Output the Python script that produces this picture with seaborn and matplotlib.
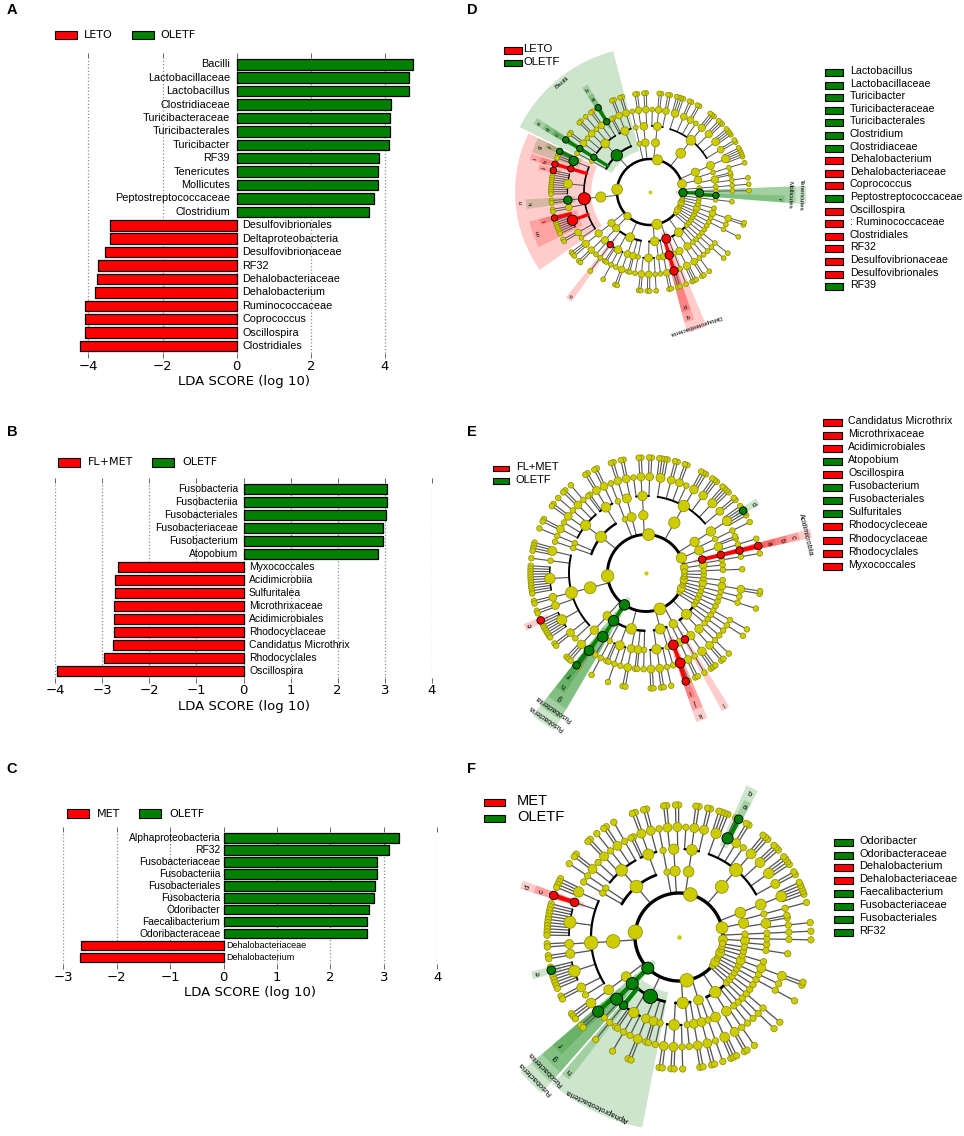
import numpy as np
import pandas as pd
import seaborn as sns
import matplotlib
matplotlib.use("Agg")
from matplotlib import pyplot as plt
from matplotlib.patches import Rectangle

# ---------------- LDA bar data (panels A, B, C) ----------------
A_TAXA = ["Bacilli", "Lactobacillaceae", "Lactobacillus", "Clostridiaceae", "Turicibacteraceae",
          "Turicibacterales", "Turicibacter", "RF39", "Tenericutes", "Mollicutes",
          "Peptostreptococcaceae", "Clostridium", "Desulfovibrionales", "Deltaproteobacteria",
          "Desulfovibrionaceae", "RF32", "Dehalobacteriaceae", "Dehalobacterium",
          "Ruminococcaceae", "Coprococcus", "Oscillospira", "Clostridiales"]
A_LDA = [4.75, 4.65, 4.64, 4.16, 4.14, 4.14, 4.12, 3.84, 3.82, 3.82, 3.70, 3.56,
         -3.42, -3.42, -3.55, -3.73, -3.78, -3.82, -4.08, -4.08, -4.10, -4.22]
A_GROUPS = ["LETO", "OLETF"]

B_TAXA = ["Fusobacteria", "Fusobacteriia", "Fusobacteriales", "Fusobacteriaceae", "Fusobacterium",
          "Atopobium", "Myxococcales", "Acidimicrobiia", "Sulfuritalea", "Microthrixaceae",
          "Acidimicrobiales", "Rhodocyclaceae", "Candidatus Microthrix", "Rhodocyclales", "Oscillospira"]
B_LDA = [3.05, 3.04, 3.02, 2.96, 2.96, 2.85, -2.67, -2.73, -2.73, -2.74, -2.75, -2.75,
         -2.76, -2.97, -3.96]
B_GROUPS = ["FL+MET", "OLETF"]

C_TAXA = ["Alphaproteobacteria", "RF32", "Fusobacteriaceae", "Fusobacteriia", "Fusobacteriales",
          "Fusobacteria", "Odoribacter", "Faecalibacterium", "Odoribacteraceae",
          "Dehalobacteriaceae", "Dehalobacterium"]
C_LDA = [3.28, 3.10, 2.88, 2.87, 2.83, 2.81, 2.73, 2.68, 2.68, -2.66, -2.68]
C_GROUPS = ["MET", "OLETF"]

# ---------------- cladogram keys (panels D, E, F) ----------------
D_KEY_LABELS = ["Lactobacillus", "Lactobacillaceae", "Turicibacter", "Turicibacteraceae",
                "Turicibacterales", "Clostridium", "Clostridiaceae", "Dehalobacterium",
                "Dehalobacteriaceae", "Coprococcus", "Peptostreptococcaceae", "Oscillospira",
                ": Ruminococcaceae", "Clostridiales", "RF32", "Desulfovibrionaceae",
                "Desulfovibrionales", "RF39"]
D_LETTER_TAXA = ["Lactobacillus", "Lactobacillaceae", "Turicibacter", "Turicibacteraceae",
                 "Turicibacterales", "Clostridium", "Clostridiaceae", "Dehalobacterium",
                 "Dehalobacteriaceae", "Coprococcus", "Peptostreptococcaceae", "Oscillospira",
                 "Ruminococcaceae", "Clostridiales", "RF32", "Desulfovibrionaceae",
                 "Desulfovibrionales", "RF39"]

E_KEY_LABELS = ["Candidatus Microthrix", "Microthrixaceae", "Acidimicrobiales", "Atopobium",
                "Oscillospira", "Fusobacterium", "Fusobacteriales", "Sulfuritales",
                "Rhodocycleceae", "Rhodocyclaceae", "Rhodocyclales", "Myxococcales"]
E_LETTER_TAXA = ["Candidatus Microthrix", "Microthrixaceae", "Acidimicrobiales", "Atopobium",
                 "Oscillospira", "Fusobacterium", "Fusobacteriales", "Fusobacteriaceae",
                 "Sulfuritalea", "Rhodocyclaceae", "Rhodocyclales", "Myxococcales"]

F_KEY_LABELS = ["Odoribacter", "Odoribacteraceae", "Dehalobacterium", "Dehalobacteriaceae",
                "Faecalibacterium", "Fusobacteriaceae", "Fusobacteriales", "RF32"]
F_LETTER_TAXA = list(F_KEY_LABELS)

# taxonomy shown in the cladograms: (name, children); a str is a leaf, an int n is n unnamed leaves
TAXONOMY = [
    ("Tenericutes", [("Mollicutes", ["RF39", ("Anaeroplasmatales", [("Anaeroplasmataceae", ["Anaeroplasma"])])])]),
    ("Actinobacteria", [
        ("Acidimicrobiia", [("Acidimicrobiales", [("Microthrixaceae", ["Candidatus Microthrix"])])]),
        ("Actinobacteria (class)", [
            ("Actinomycetales", [("Corynebacteriaceae", ["Corynebacterium"]), "Micrococcaceae",
                                 "Nocardiaceae"]),
            ("Bifidobacteriales", [("Bifidobacteriaceae", ["Bifidobacterium"])])]),
        ("Coriobacteriia", [("Coriobacteriales", [("Coriobacteriaceae",
                                                    ["Adlercreutzia", "Collinsella", "Atopobium", 2])])]),
    ]),
    ("Bacteroidetes", [
        ("Bacteroidia", [("Bacteroidales", [
            ("Bacteroidaceae", ["Bacteroides", 1]),
            ("Porphyromonadaceae", ["Parabacteroides", "Porphyromonas", 2]),
            ("Prevotellaceae", ["Prevotella", 2]),
            ("Rikenellaceae", ["Rikenella", "Alistipes", 1]),
            "S24-7",
            ("Barnesiellaceae", [2]),
            ("Odoribacteraceae", ["Odoribacter", "Butyricimonas"]),
            ("Paraprevotellaceae", ["Paraprevotella", "CF231", "YRC22", 1]),
        ])]),
        ("Flavobacteriia", [("Flavobacteriales", [("Flavobacteriaceae", [2]), ("Weeksellaceae", [2]),
                                                  "Cryomorphaceae"])]),
        ("Sphingobacteriia", [("Sphingobacteriales", [("Sphingobacteriaceae", [2]), ("Chitinophagaceae", [2])])]),
        ("Cytophagia", [("Cytophagales", ["Cytophagaceae"])]),
    ]),
    ("Firmicutes", [
        ("Bacilli", [
            ("Bacillales", [("Staphylococcaceae", ["Staphylococcus", "Jeotgalicoccus"]), ("Planococcaceae", [2]),
                            "Bacillaceae", "Paenibacillaceae"]),
            ("Lactobacillales", [("Lactobacillaceae", ["Lactobacillus"]),
                                 ("Streptococcaceae", ["Lactococcus", "Streptococcus"]),
                                 ("Enterococcaceae", ["Enterococcus"]),
                                 ("Leuconostocaceae", ["Leuconostoc", "Weissella"]),
                                 "Aerococcaceae", ("Carnobacteriaceae", [2])]),
            ("Turicibacterales", [("Turicibacteraceae", ["Turicibacter"])]),
            ("Gemellales", ["Gemellaceae"]),
        ]),
        ("Clostridia", [("Clostridiales", [
            ("Clostridiaceae", ["Clostridium", "SMB53", "02d06", "Candidatus Arthromitus"]),
            ("Dehalobacteriaceae", ["Dehalobacterium"]),
            ("Lachnospiraceae", ["Coprococcus", "Dorea", "Blautia", "Roseburia", "[Ruminococcus]",
                                 "Lachnospira", "Anaerostipes", "Epulopiscium", "Butyrivibrio", 2]),
            ("Peptostreptococcaceae", [2]),
            ("Peptococcaceae", ["rc4-4", "Peptococcus"]),
            ("Ruminococcaceae", ["Oscillospira", "Faecalibacterium", "Ruminococcus", "Anaerotruncus",
                                 "Butyricicoccus", 3]),
            ("Veillonellaceae", ["Phascolarctobacterium", 1]),
            "Christensenellaceae",
        ])]),
        ("Erysipelotrichi", [("Erysipelotrichales", [("Erysipelotrichaceae", ["Allobaculum", "Coprobacillus", 1])])]),
    ]),
    ("Fusobacteria", [("Fusobacteriia", [("Fusobacteriales", [("Fusobacteriaceae", ["Fusobacterium", "Cetobacterium"]),
                                                               "Leptotrichiaceae"])])]),
    ("Proteobacteria", [
        ("Alphaproteobacteria", [
            ("RF32", [("", [1])]),
            ("Rhizobiales", ["Bradyrhizobiaceae", "Methylobacteriaceae", ("Rhizobiaceae", [1]),
                             "Hyphomicrobiaceae"]),
            ("Sphingomonadales", [("Sphingomonadaceae", ["Sphingomonas", 1])]),
            ("Rhodospirillales", ["Rhodospirillaceae", "Acetobacteraceae"]),
            ("Caulobacterales", ["Caulobacteraceae"]),
        ]),
        ("Betaproteobacteria", [
            ("Burkholderiales", [("Alcaligenaceae", ["Sutterella", 1]), ("Comamonadaceae", [2]),
                                 ("Oxalobacteraceae", ["Oxalobacter"])]),
            ("Neisseriales", ["Neisseriaceae"]),
            ("Rhodocyclales", [("Rhodocyclaceae", ["Sulfuritalea", 1])]),
        ]),
        ("Deltaproteobacteria", [
            ("Desulfovibrionales", [("Desulfovibrionaceae", ["Desulfovibrio", "Bilophila"])]),
            ("Myxococcales", [("", [1])]),
        ]),
        ("Gammaproteobacteria", [
            ("Enterobacteriales", [("Enterobacteriaceae", [3])]),
            ("Pseudomonadales", [("Moraxellaceae", ["Acinetobacter", 1]), ("Pseudomonadaceae", ["Pseudomonas"])]),
            ("Pasteurellales", ["Pasteurellaceae"]),
            ("Xanthomonadales", ["Xanthomonadaceae"]),
        ]),
        ("Epsilonproteobacteria", [("Campylobacterales", [("Helicobacteraceae", ["Helicobacter"])])]),
    ]),
    ("Verrucomicrobia", [("Verrucomicrobiae", [("Verrucomicrobiales", [("Verrucomicrobiaceae", ["Akkermansia"])])])]),
    ("Cyanobacteria", [("4C0d-2", ["YS2"]), ("Chloroplast", ["Streptophyta"])]),
    ("Deferribacteres", [("Deferribacteres (class)", [("Deferribacterales", [("Deferribacteraceae", ["Mucispirillum"])])])]),
    ("TM7", [("TM7-3", [("CW040", ["F16"])])]),
    ("Spirochaetes", [("Spirochaetes (class)", [("Spirochaetales", [("Spirochaetaceae", ["Treponema", 1])])])]),
    ("Chloroflexi", [("Anaerolineae", [1])]),
    ("Acidobacteria", [1]),
    ("Planctomycetes", [("Planctomycetia", [("Pirellulales", ["Pirellulaceae"])])]),
]

RED = "#FF0000"
GREEN = "#008000"
NODE_YELLOW = "#CCCC00"

W, H = 964, 1136

sns.set_style("white")
plt.rcParams["font.family"] = ["DejaVu Sans"]
plt.rcParams["text.color"] = "black"
plt.rcParams["axes.labelcolor"] = "black"
plt.rcParams["xtick.color"] = "black"

fig = plt.figure(figsize=(W / 100, H / 100), dpi=100)


def fx(x):
    return x / W


def fy(y):
    return 1 - y / H


def box(x, y, w, h, color, lw=0.8):
    fig.add_artist(Rectangle((fx(x), fy(y + h)), w / W, h / H, facecolor=color,
                             edgecolor="black", linewidth=lw, transform=fig.transFigure))


def lda_panel(taxa, lda, groups, left, right, top, bottom, xlim, ticks, name_pt, offs, leg):
    ax = fig.add_axes([fx(left), fy(bottom), (right - left) / W, (bottom - top) / H])
    df = pd.DataFrame({"taxon": taxa, "lda": lda})
    df["group"] = np.where(df["lda"] > 0, groups[1], groups[0])
    sns.barplot(data=df, x="lda", y="taxon", hue="group", palette={groups[0]: RED, groups[1]: GREEN},
                dodge=False, orient="h", width=0.78, saturation=1, edgecolor="black", linewidth=0.9,
                legend=False, ax=ax, zorder=3)
    ax.set_xlim(*xlim)
    ax.set_ylim(len(taxa) - 0.5, -0.5)
    ax.set_xticks(ticks)
    ax.set_yticks([])
    ax.set_ylabel("")
    ax.set_xlabel("LDA SCORE (log 10)", fontsize=9.5, labelpad=2)
    for s in ax.spines.values():
        s.set_visible(False)
    ax.grid(axis="x", linestyle=":", color="#8c8c8c", linewidth=0.9)
    ax.grid(axis="y", visible=False)
    ax.set_axisbelow(True)
    ax.tick_params(axis="x", top=True, bottom=True, direction="out", length=3.5, width=0.7,
                   color="#666666", labelsize=9.5, pad=1.5)
    for i, (t, v) in enumerate(zip(taxa, lda)):
        fs = name_pt[0] if v > 0 else name_pt[1]
        if v > 0:
            ax.annotate(t, (0, i), xytext=(-offs[0], 0), textcoords="offset points",
                        ha="right", va="center", fontsize=fs, family="Liberation Sans")
        else:
            ax.annotate(t, (0, i), xytext=(offs[1], 0), textcoords="offset points",
                        ha="left", va="center", fontsize=fs, family="Liberation Sans")
    # group legend above the plot
    ly, (rx, rt, gx, gt) = leg
    box(rx, ly - 4.3, 22, 8.6, RED)
    fig.text(fx(rt), fy(ly), groups[0], fontsize=8, va="center", ha="left")
    box(gx, ly - 4.3, 22, 8.6, GREEN)
    fig.text(fx(gt), fy(ly), groups[1], fontsize=8, va="center", ha="left")


# ---------------- tree layout ----------------
def layout(taxonomy):
    nodes = []
    leaf_parent = []

    def visit(item, level, parent):
        name, kids = (item, []) if isinstance(item, str) else item
        idx = len(nodes)
        nodes.append({"name": name, "level": level, "parent": parent, "kids": []})
        expanded = []
        for k in kids:
            expanded.extend([""] * k if isinstance(k, int) else [k])
        if expanded:
            for k in expanded:
                nodes[idx]["kids"].append(visit(k, level + 1, idx))
            nodes[idx]["leaves"] = [l for k in nodes[idx]["kids"] for l in nodes[k]["leaves"]]
        else:
            nodes[idx]["leaves"] = [len(leaf_parent)]
            leaf_parent.append(parent)
        return idx

    for phylum in taxonomy:
        visit(phylum, 1, None)
    # siblings sit close together, a wider gap separates different clades
    pos = [0.0]
    for j in range(1, len(leaf_parent)):
        pos.append(pos[-1] + (0.55 if leaf_parent[j] == leaf_parent[j - 1] else 1.5))
    total = pos[-1] + 1.5
    frac = np.array(pos) / total
    return nodes, frac, 1.0 / total


NODES, LEAF_FRAC, SEP_FRAC = layout(TAXONOMY)
R_AX = 5.4


def radius(level):
    return 1.0 + 0.5 * (level - 1)


def cladogram(bar_taxa, bar_lda, letter_taxa, cx, cy, unit, start_deg, fs):
    k = unit / 33.0
    size = 2 * R_AX * unit
    ax = fig.add_axes([fx(cx - size / 2), fy(cy + size / 2), size / W, size / H], projection="polar")
    ax.set_ylim(0, R_AX)
    ax.set_axis_off()
    ax.patch.set_alpha(0)

    leaf_theta = np.deg2rad(start_deg + 360.0 * LEAF_FRAC)
    half = 2 * np.pi * SEP_FRAC * 0.6
    theta = np.zeros(len(NODES))
    for i in reversed(range(len(NODES))):
        kids = NODES[i]["kids"]
        theta[i] = 0.5 * (theta[kids[0]] + theta[kids[-1]]) if kids else leaf_theta[NODES[i]["leaves"][0]]

    name_idx = {nd["name"]: i for i, nd in enumerate(NODES) if nd["name"]}
    marked = {name_idx[t]: (GREEN if v > 0 else RED) for t, v in zip(bar_taxa, bar_lda)}
    letters = {name_idx[t]: chr(ord("a") + j) for j, t in enumerate(letter_taxa)}

    # shaded sectors with letters / names
    for i, col in marked.items():
        nd = NODES[i]
        lv = nd["level"]
        lo = leaf_theta[min(nd["leaves"])] - half
        hi = leaf_theta[max(nd["leaves"])] + half
        r_in = radius(lv) - 0.22
        r_out = 3.45 + (5 - lv) * 0.32
        ax.bar((lo + hi) / 2, r_out - r_in, width=hi - lo, bottom=r_in, color=col, alpha=0.2,
               linewidth=0, zorder=0.5)
        tc = (lo + hi) / 2
        rot = np.rad2deg(tc) - 90
        ax.text(tc, r_out - 0.16, letters.get(i, nd["name"]), rotation=rot, rotation_mode="anchor",
                ha="center", va="center", fontsize=fs, zorder=6, family="Liberation Sans")

    # branches
    t = np.linspace(0, 2 * np.pi, 400)
    ax.plot(t, np.ones_like(t), color="black", lw=1.8 * k, zorder=2)
    arc_lw = {2: 1.5, 3: 1.2, 4: 0.9, 5: 0.8}
    for i, nd in enumerate(NODES):
        r = radius(nd["level"])
        kids = nd["kids"]
        if len(kids) > 1 and nd["level"] > 1:
            ta = np.linspace(theta[kids[0]], theta[kids[-1]], 60)
            ax.plot(ta, np.full_like(ta, r), color="black", lw=arc_lw[nd["level"]] * k, zorder=2)
        if nd["parent"] is not None:
            p = nd["parent"]
            rp = radius(NODES[p]["level"])
            if i in marked and marked.get(p) == marked[i]:
                ax.plot([theta[i], theta[i]], [rp, r], color=marked[i], lw=2.4 * k, zorder=2.5)
            else:
                ax.plot([theta[i], theta[i]], [rp, r], color="#555555", lw=0.7 * k, zorder=1.8)

    # nodes
    nleaf = np.array([len(nd["leaves"]) for nd in NODES])
    sizes = (12 + 11 * np.log1p(nleaf - 1) + 4 * (nleaf > 1)) * k ** 2
    radii = np.array([radius(nd["level"]) for nd in NODES])
    plain = np.array([i not in marked for i in range(len(NODES))])
    ax.scatter(theta[plain], radii[plain], s=sizes[plain], color=NODE_YELLOW, edgecolors="#8a8a00",
               linewidths=0.5, zorder=3)
    mk = list(marked.keys())
    ax.scatter(theta[mk], radii[mk], s=sizes[mk] * 1.3 + 6 * k ** 2, color=[marked[i] for i in mk],
               edgecolors="black", linewidths=0.6, zorder=4)
    ax.scatter([0], [0], s=3 * k ** 2, color=NODE_YELLOW, zorder=3)
    return marked


def key_list(labels, colors, xp, wp, hp, xt, y0, dy, fs):
    for j, (lab, col) in enumerate(zip(labels, colors)):
        y = y0 + j * dy
        box(xp, y - hp / 2 + 1.5, wp, hp, col)
        fig.text(fx(xt), fy(y), lab, fontsize=fs, va="center", ha="left", family="Liberation Sans")


def side_colors(letter_taxa, bar_taxa, bar_lda):
    lookup = dict(zip(bar_taxa, bar_lda))
    return [GREEN if lookup[t] > 0 else RED for t in letter_taxa]


# ---------------- panels A, B, C ----------------
lda_panel(A_TAXA, A_LDA, A_GROUPS, 71.7, 416.5, 57.6, 352.7, (-4.45, 4.85), [-4, -2, 0, 2, 4],
          (7.8, 7.8), (4.8, 4.0), (35, (55, 84, 132, 160)))
lda_panel(B_TAXA, B_LDA, B_GROUPS, 55, 432, 482.5, 677.5, (-4, 4), [-4, -3, -2, -1, 0, 1, 2, 3, 4],
          (7.5, 7.5), (3.9, 4.0), (462.3, (58.3, 88, 152.3, 182)))
lda_panel(C_TAXA, C_LDA, C_GROUPS, 63.3, 437.3, 832, 963.7, (-3, 4), [-3, -2, -1, 0, 1, 2, 3, 4],
          (7.4, 6.5), (2.4, 1.7), (813.7, (66.7, 96.7, 139.3, 169)))

# ---------------- panels D, E, F ----------------
cladogram(A_TAXA, A_LDA, D_LETTER_TAXA, 650, 192, 33, -3, 4.5)
cladogram(B_TAXA, B_LDA, E_LETTER_TAXA, 646, 573, 38.5, 6, 5.0)
cladogram(C_TAXA, C_LDA, F_LETTER_TAXA, 679, 937, 44, -5, 5.5)

key_list(D_KEY_LABELS, side_colors(D_LETTER_TAXA, A_TAXA, A_LDA), 825, 18, 7, 850, 71, 12.6, 7.7)
key_list(E_KEY_LABELS, side_colors(E_LETTER_TAXA, B_TAXA, B_LDA), 823.3, 18.4, 7, 848.3, 421, 13.06, 7.7)
key_list(F_KEY_LABELS, side_colors(F_LETTER_TAXA, C_TAXA, C_LDA), 834, 18.7, 7, 859.3, 840.7, 12.86, 7.9)

key_list(A_GROUPS, [RED, GREEN], 504, 18, 6, 523, 49, 12.7, 8.2)
key_list(B_GROUPS, [RED, GREEN], 493.3, 16, 5.5, 516, 467, 12.7, 8.0)
key_list(C_GROUPS, [RED, GREEN], 484, 21, 7, 517, 800.7, 16.6, 10.5)

# panel letters
for letter, (x, y) in zip("ABCDEF", [(12, 10), (12, 432), (12, 769), (472, 10), (472, 432), (471, 769)]):
    fig.text(fx(x), fy(y), letter, fontsize=10.5, fontweight="bold", ha="center", va="center",
             family="Liberation Sans")

fig.savefig("out.png", dpi=100)
